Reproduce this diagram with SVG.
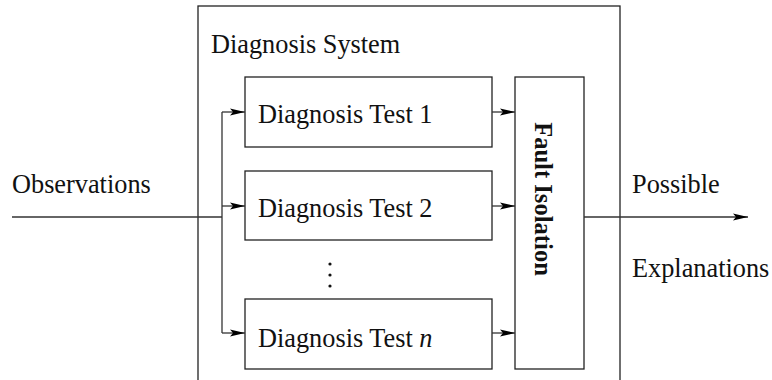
<svg xmlns="http://www.w3.org/2000/svg" width="772" height="380" viewBox="0 0 772 380">
<style>
text{font-family:"Liberation Serif","Times New Roman",serif;font-size:26.3px;fill:#111}
text.fi{font-size:24.6px;font-weight:bold}
.box{fill:#fff;stroke:#222;stroke-width:1.3}
.ln{fill:none;stroke:#333;stroke-width:1.3}
</style>
<defs>
<marker id="ah" viewBox="0 0 15 8" refX="15" refY="4" markerWidth="15" markerHeight="8" markerUnits="userSpaceOnUse" orient="auto">
<path d="M0,0.5 L15,4 L0,7.5 L3,4 Z" fill="#000"/>
</marker>
</defs>
<rect width="772" height="380" fill="#fff"/>
<g id="system">
<rect class="box" x="198" y="6" width="422" height="390"/>
<text x="211" y="53">Diagnosis System</text>
</g>
<g id="test1">
<rect class="box" x="245" y="77" width="247" height="70"/>
<text x="258" y="123">Diagnosis Test 1</text>
</g>
<g id="test2">
<rect class="box" x="245" y="171" width="247" height="69"/>
<text x="258" y="217">Diagnosis Test 2</text>
</g>
<g id="dots" fill="#111">
<circle cx="330" cy="264" r="1.6"/>
<circle cx="330" cy="275" r="1.6"/>
<circle cx="330" cy="286" r="1.6"/>
</g>
<g id="testn">
<rect class="box" x="245" y="299" width="247" height="70"/>
<text x="258" y="347">Diagnosis Test <tspan font-style="italic">n</tspan></text>
</g>
<g id="fault">
<rect class="box" x="515" y="77" width="69" height="292"/>
<text class="fi" transform="translate(535,199) rotate(90)" text-anchor="middle">Fault Isolation</text>
</g>
<g id="labels">
<text x="12" y="193">Observations</text>
<text x="632" y="193">Possible</text>
<text x="632" y="277">Explanations</text>
</g>
<g id="connectors">
<path class="ln" d="M12,217 H222"/>
<path class="ln" d="M222,112 V333"/>
<path class="ln" d="M222,112 H245" marker-end="url(#ah)"/>
<path class="ln" d="M222,206 H245" marker-end="url(#ah)"/>
<path class="ln" d="M222,333 H245" marker-end="url(#ah)"/>
<path class="ln" d="M492,112 H515" marker-end="url(#ah)"/>
<path class="ln" d="M492,206 H515" marker-end="url(#ah)"/>
<path class="ln" d="M492,333 H515" marker-end="url(#ah)"/>
<path class="ln" d="M584,217 H748" marker-end="url(#ah)"/>
</g>
</svg>
